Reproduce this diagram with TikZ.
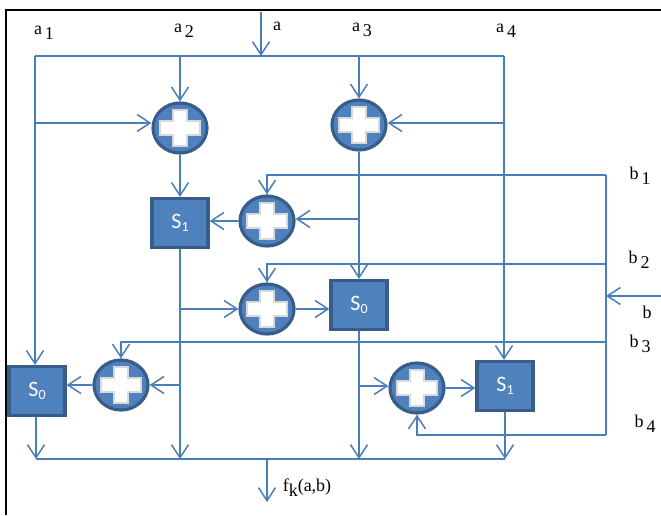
\documentclass[tikz,border=0pt]{standalone}
\usepackage{fontspec}
\setmainfont{Liberation Serif}
\newfontfamily\boxfont{Carlito}
\usetikzlibrary{arrows.meta,shapes.geometric}
\definecolor{boxfill}{HTML}{4F81BD}
\definecolor{boxedge}{HTML}{385D8A}
\definecolor{wire}{HTML}{4A7EBB}
\newcommand{\lab}[2]{#1\,\raisebox{-5pt}{#2}}
\newcommand{\sname}[1]{\boxfont S\raisebox{-3pt}{\fontsize{14}{14}\selectfont #1}}
\begin{document}
\begin{tikzpicture}[x=1pt, y=-1pt]
\tikzset{
  adder/.style={draw=boxedge, fill=boxfill, line width=3.2pt, ellipse, inner sep=0pt,
    minimum width=54pt, minimum height=50pt,
    path picture={\draw[gray!30, fill=white, line width=1.2pt]
      ([shift={(-7,-18)}]path picture bounding box.center) -- ++(14,0) -- ++(0,11) -- ++(13,0)
      -- ++(0,14) -- ++(-13,0) -- ++(0,11) -- ++(-14,0) -- ++(0,-11) -- ++(-13,0)
      -- ++(0,-14) -- ++(13,0) -- cycle;}},
  sblock/.style={draw=boxedge, fill=boxfill, line width=3.2pt, minimum width=56pt,
    minimum height=49pt, inner sep=0pt, text=white, font=\fontsize{22}{22}\selectfont},
  wire/.style={draw=wire, line width=1.6pt},
  go/.style={wire, -{Straight Barb[length=13pt, width=17pt, line width=1.5pt]}},
  lbl/.style={inner sep=0pt, font=\fontsize{18}{18}\selectfont}
}
\useasboundingbox (0,0) rectangle (661,515);
\draw[line width=2pt] (6,515) -- (6,10) -- (661,10);

\node[adder] (A1) at (180,128) {};
\node[adder] (A2) at (359,125) {};
\node[adder] (A3) at (267,221) {};
\node[adder] (A4) at (267,309) {};
\node[adder] (A5) at (121,385) {};
\node[adder] (A6) at (417,388) {};
\node[sblock] (S1a) at (180,223) {\sname{1}};
\node[sblock] (S0a) at (359,305) {\sname{0}};
\node[sblock] (S0b) at (37,391) {\sname{0}};
\node[sblock] (S1b) at (505,386) {\sname{1}};

\coordinate (inA) at (261,12);
\coordinate (busA) at (261,56);
\coordinate (busAL) at (35,56);
\coordinate (busAR) at (504,56);
\coordinate (busA2) at (180,56);
\coordinate (busA3) at (359,56);
\coordinate (tapA1) at (35,123);
\coordinate (tapA4) at (504,123);
\coordinate (inB) at (661,296);
\coordinate (busB) at (606,296);
\coordinate (b1) at (606,175);
\coordinate (b2) at (606,264);
\coordinate (b3) at (606,342);
\coordinate (b4) at (606,435);
\coordinate (tapA3) at (359,219);
\coordinate (tapA4s) at (180,309);
\coordinate (tapA5) at (180,385);
\coordinate (tapA6) at (359,386);
\coordinate (busFL) at (36,459);
\coordinate (busF2) at (180,459);
\coordinate (busF3) at (359,459);
\coordinate (busFR) at (505,459);
\coordinate (busF) at (267,459);
\coordinate (outF) at (267,502);

\draw[go] (inA) -- (busA);
\draw[wire] (busAL) -- (busAR);
\draw[go] (busAL) -- (busAL |- S0b.north);
\draw[go] (busA2) -- (A1.north);
\draw[go] (busA3) -- (A2.north);
\draw[go] (busAR) -- (busAR |- S1b.north);
\draw[go] (tapA1) -- (tapA1 -| A1.west);
\draw[go] (tapA4) -- (tapA4 -| A2.east);
\draw[go] (A1) -- (S1a);
\draw[go] (A3.west) -- (A3.west -| S1a.east);
\draw[go] (tapA3) -- (tapA3 -| A3.east);
\draw[go] (A2) -- (S0a);
\draw[wire] (b1) -- (b4);
\draw[go] (inB) -- (busB);
\draw[go] (b1) -| (A3.north);
\draw[go] (b2) -| (A4.north);
\draw[go] (b3) -| (A5.north);
\draw[go] (b4) -| (A6.south);
\draw[go] (tapA4s) -- (tapA4s -| A4.west);
\draw[go] (A4.east) -- (A4.east -| S0a.west);
\draw[go] (tapA5) -- (tapA5 -| A5.east);
\draw[go] (A5.west) -- (A5.west -| S0b.east);
\draw[go] (tapA6) -- (tapA6 -| A6.west);
\draw[go] (A6.east) -- (A6.east -| S1b.west);
\draw[go] (S1a) -- (busF2);
\draw[go] (S0a) -- (busF3);
\draw[go] (S0b.south -| busFL) -- (busFL);
\draw[go] (S1b) -- (busFR);
\draw[wire] (busFL) -- (busFR);
\draw[go] (busF) -- (outF);

\node[lbl] (La1) at (44,33) {\lab{a}{1}};
\node[lbl] (La2) at (184,31) {\lab{a}{2}};
\node[lbl] (La) at (277,26) {a};
\node[lbl] (La3) at (362,30) {\lab{a}{3}};
\node[lbl] (La4) at (506,31) {\lab{a}{4}};
\node[lbl] (Lb1) at (640,176) {\lab{b}{1}};
\node[lbl] (Lb2) at (639,260) {\lab{b}{2}};
\node[lbl] (Lb) at (647,312) {b};
\node[lbl] (Lb3) at (640,344) {\lab{b}{3}};
\node[lbl] (Lb4) at (645,424) {\lab{b}{4}};
\node[lbl] (Lf) at (307,488) {f\raisebox{-5pt}{k}(a,b)};
\end{tikzpicture}
\end{document}
